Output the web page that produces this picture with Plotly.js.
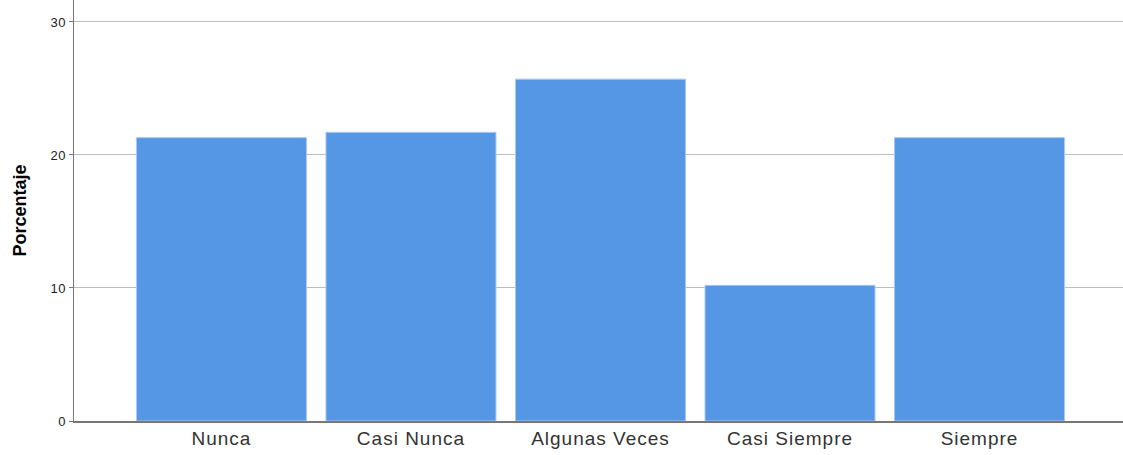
<!DOCTYPE html>
<html>
<head>
<meta charset="utf-8">
<script src="https://cdn.plot.ly/plotly-3.0.1.min.js"></script>
<style>html,body{margin:0;padding:0;background:#fff;}#chart{width:1123px;height:455px;}
#chart .xtick text{letter-spacing:1px;}
#chart .ytick text{letter-spacing:0.5px;}</style>
</head>
<body>
<div id="chart"></div>
<script>
const categories = ["Nunca", "Casi Nunca", "Algunas Veces", "Casi Siempre", "Siempre"];
const porcentaje = [21.3, 21.7, 25.7, 10.2, 21.3];
const yTicks = [0, 10, 20, 30];

const trace = {
  type: "bar",
  x: categories.map((c, i) => i),
  y: porcentaje,
  marker: { color: "#5596E5", line: { color: "#A9C9F2", width: 1 } },
  hoverinfo: "skip"
};

const layout = {
  width: 1123, height: 455,
  margin: { l: 74, r: 0, t: 0, b: 34 },
  paper_bgcolor: "#fff", plot_bgcolor: "#fff",
  bargap: 0.103,
  showlegend: false,
  font: { family: "Liberation Sans, Arial, sans-serif", color: "#222" },
  xaxis: {
    range: [-0.778, 4.757],
    tickmode: "array",
    tickvals: categories.map((c, i) => i),
    ticktext: categories,
    tickfont: { size: 19, color: "#333" },
    ticks: "", showgrid: false, zeroline: false,
    showline: true, linecolor: "#777", linewidth: 1.5
  },
  yaxis: {
    range: [0, 31.65],
    tickmode: "array",
    tickvals: yTicks,
    ticktext: yTicks.map(String),
    tickfont: { size: 13, color: "#222" },
    ticks: "outside", ticklen: 4, tickcolor: "#777",
    showgrid: true, gridcolor: "#bdbdbd", gridwidth: 1,
    zeroline: false,
    showline: true, linecolor: "#777", linewidth: 1.5,
    title: { text: "<b>Porcentaje</b>", font: { size: 18, color: "#000" }, standoff: 20 }
  }
};

Plotly.newPlot("chart", [trace], layout, { displayModeBar: false, staticPlot: true });
</script>
</body>
</html>
